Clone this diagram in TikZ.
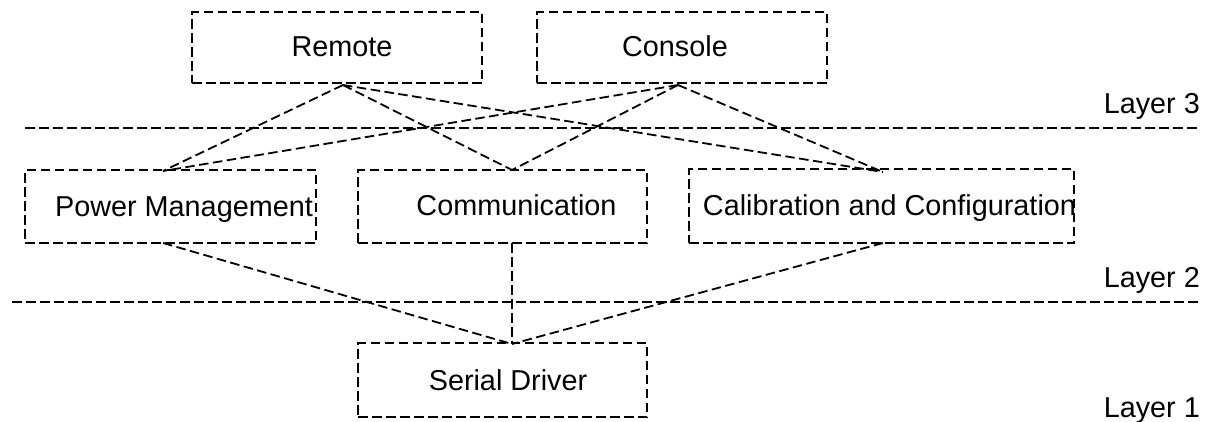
\documentclass[tikz,border=0pt]{standalone}
\usepackage{fontspec}
\setmainfont{Liberation Sans}
\tikzset{
  dline/.style={line width=1.8pt, dash pattern=on 9.5pt off 4.5pt, black},
  box/.style={draw, dline, rectangle, inner sep=0pt},
  lbl/.style={anchor=base, inner sep=0pt, font=\fontsize{28.8}{34}\selectfont},
  layerlbl/.style={anchor=base east, inner sep=0pt, font=\fontsize{28.8}{34}\selectfont}
}
\begin{document}
\begin{tikzpicture}[x=1pt,y=-1pt]
\useasboundingbox (0,0) rectangle (1208,421);
% boxes
\node[box, minimum width=290pt, minimum height=71pt] (remote) at (337,47.5) {};
\node[box, minimum width=290pt, minimum height=71pt] (console) at (682,47.5) {};
\node[box, minimum width=291pt, minimum height=73pt] (power) at (170.5,206.5) {};
\node[box, minimum width=289pt, minimum height=73pt] (comm) at (502.5,206.5) {};
\node[box, minimum width=385pt, minimum height=74pt] (calib) at (881.5,206) {};
\node[box, minimum width=289pt, minimum height=74pt] (serial) at (502.5,380) {};
% texts
\node[lbl] (remoteT) at (342,56) {Remote};
\node[lbl] (consoleT) at (675,56) {Console};
\node[lbl] (powerT) at (184,216) {Power Management};
\node[lbl] (commT) at (516.5,215) {Communication};
\node[lbl] (calibT) at (889.5,215) {Calibration and Configuration};
\node[lbl] (serialT) at (508,390) {Serial Driver};
\node[layerlbl] (l3) at (1200,113) {Layer 3};
\node[layerlbl] (l2) at (1200,287) {Layer 2};
\node[layerlbl] (l1) at (1200,417) {Layer 1};
% layer separators
\coordinate (s3a) at (25,128);
\coordinate (s3b) at (1200,128);
\coordinate (s2a) at (12,302);
\coordinate (s2b) at (1200,302);
\draw[dline] (s3a) -- (s3b);
\draw[dline] (s2a) -- (s2b);
% connection points
\coordinate (remoteB) at (343,85);
\coordinate (consoleB) at (678,85);
\coordinate (powerTop) at (163,171);
\coordinate (commTop) at (512,170);
\coordinate (calibTop) at (883,172);
\coordinate (powerBot) at (163,243);
\coordinate (commBot) at (512,243);
\coordinate (calibBot) at (883,243);
\coordinate (serialTop) at (512,344);
% connectors
\draw[dline] (remoteB) -- (powerTop);
\draw[dline] (remoteB) -- (commTop);
\draw[dline] (remoteB) -- (calibTop);
\draw[dline] (consoleB) -- (powerTop);
\draw[dline] (consoleB) -- (commTop);
\draw[dline] (consoleB) -- (calibTop);
\draw[dline] (powerBot) -- (serialTop);
\draw[dline] (commBot) -- (serialTop);
\draw[dline] (calibBot) -- (serialTop);
\end{tikzpicture}
\end{document}
